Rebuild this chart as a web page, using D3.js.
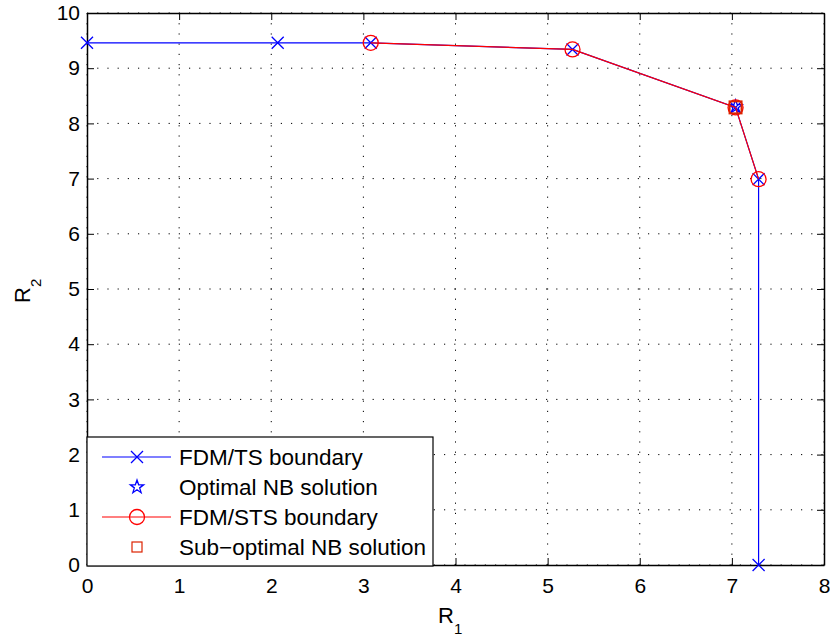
<!DOCTYPE html>
<html>
<head>
<meta charset="utf-8">
<script src="https://cdn.jsdelivr.net/npm/d3@7"></script>
<style>
body { margin: 0; background: #fff; }
text { font-family: "Liberation Sans", Arial, sans-serif; }
</style>
</head>
<body>
<script>
//FDM/TS boundary points
var tsR1 = [0, 2.07, 3.08, 5.27, 7.04, 7.29, 7.29];
var tsR2 = [9.46, 9.46, 9.46, 9.34, 8.29, 6.99, 0];
//FDM/STS boundary points
var stsR1 = [3.08, 5.27, 7.04, 7.29];
var stsR2 = [9.46, 9.34, 8.29, 6.99];
//NB solutions
var optNB = [7.04, 8.30];
var subNB = [7.04, 8.29];
//ticks and legend
var xTicks = [0, 1, 2, 3, 4, 5, 6, 7, 8];
var yTicks = [0, 1, 2, 3, 4, 5, 6, 7, 8, 9, 10];
var legendLabels = ["FDM/TS boundary", "Optimal NB solution", "FDM/STS boundary", "Sub\u2212optimal NB solution"];

drawChart();

function drawChart(){
	var width = 830, height = 639;
	var pLeft = 87, pRight = 824, pTop = 13, pBottom = 565;

	var svg = d3.select("body").append("svg")
		.attr("width", width)
		.attr("height", height);

	var x = d3.scaleLinear().domain([0, 8]).range([pLeft, pRight]);
	var y = d3.scaleLinear().domain([0, 10]).range([pBottom, pTop]);

	//dotted grid
	svg.selectAll(".gx").data(xTicks).enter().append("line")
		.attr("x1", d => x(d)).attr("x2", d => x(d))
		.attr("y1", pTop).attr("y2", pBottom)
		.attr("stroke", "#000").attr("stroke-width", 1)
		.attr("stroke-dasharray", "1.2,9");
	svg.selectAll(".gy").data(yTicks).enter().append("line")
		.attr("y1", d => y(d)).attr("y2", d => y(d))
		.attr("x1", pLeft).attr("x2", pRight)
		.attr("stroke", "#000").attr("stroke-width", 1)
		.attr("stroke-dasharray", "1.2,9");

	//axes with inward ticks
	var fs = 21;
	var gx = svg.append("g").attr("transform", "translate(0," + pBottom + ")")
		.call(d3.axisBottom(x).tickValues(xTicks).tickSizeInner(-7).tickSizeOuter(0).tickPadding(13));
	var gxt = svg.append("g").attr("transform", "translate(0," + pTop + ")")
		.call(d3.axisTop(x).tickValues(xTicks).tickSizeInner(-7).tickSizeOuter(0).tickFormat(""));
	var gy = svg.append("g").attr("transform", "translate(" + pLeft + ",0)")
		.call(d3.axisLeft(y).tickValues(yTicks).tickSizeInner(-7).tickSizeOuter(0).tickPadding(7));
	var gyr = svg.append("g").attr("transform", "translate(" + pRight + ",0)")
		.call(d3.axisRight(y).tickValues(yTicks).tickSizeInner(-7).tickSizeOuter(0).tickFormat(""));
	[gx, gxt, gy, gyr].forEach(function(g){
		g.select(".domain").attr("stroke", "#000").attr("stroke-width", 1.5);
		g.selectAll(".tick line").attr("stroke", "#000").attr("stroke-width", 1);
		g.selectAll("text").attr("font-size", fs).attr("fill", "#000")
			.style("font-family", "'Liberation Sans', Arial, sans-serif");
	});

	var line = d3.line().x(d => x(d[0])).y(d => y(d[1]));
	var ts = tsR1.map((v, i) => [v, tsR2[i]]);
	var sts = stsR1.map((v, i) => [v, stsR2[i]]);

	//FDM/TS
	svg.append("path").datum(ts).attr("d", line)
		.attr("fill", "none").attr("stroke", "#0000ff").attr("stroke-width", 1.2);
	var mk = svg.append("g");
	ts.forEach(d => xMark(mk, x(d[0]), y(d[1]), "#0000ff"));

	//optimal NB
	svg.append("path").attr("d", starPath(x(optNB[0]), y(optNB[1]), 7))
		.attr("fill", "none").attr("stroke", "#0000ff").attr("stroke-width", 1.3);

	//FDM/STS
	svg.append("path").datum(sts).attr("d", line)
		.attr("fill", "none").attr("stroke", "#ff0000").attr("stroke-width", 1.2);
	svg.selectAll(".sts").data(sts).enter().append("circle")
		.attr("cx", d => x(d[0])).attr("cy", d => y(d[1])).attr("r", 7.5)
		.attr("fill", "none").attr("stroke", "#ff0000").attr("stroke-width", 1.3);

	//sub-optimal NB
	svg.append("rect")
		.attr("x", x(subNB[0]) - 6).attr("y", y(subNB[1]) - 6)
		.attr("width", 12).attr("height", 12)
		.attr("fill", "none").attr("stroke", "#dd2200").attr("stroke-width", 2);

	//legend
	var lg = svg.append("g");
	lg.append("rect").attr("x", 87).attr("y", 437).attr("width", 346).attr("height", 129)
		.attr("fill", "#fff").attr("stroke", "#000").attr("stroke-width", 1.2);
	var rowY = d3.range(legendLabels.length).map(i => 457 + i * 30);
	lg.selectAll(".lt").data(legendLabels).enter().append("text")
		.attr("x", 179).attr("y", (d, i) => rowY[i]).attr("dy", "0.36em")
		.attr("font-size", 22.5).text(d => d);
	lg.append("line").attr("x1", 102).attr("x2", 171).attr("y1", rowY[0]).attr("y2", rowY[0])
		.attr("stroke", "#0000ff").attr("stroke-width", 1.2);
	xMark(lg, 137, rowY[0], "#0000ff");
	lg.append("path").attr("d", starPath(137, rowY[1], 7))
		.attr("fill", "none").attr("stroke", "#0000ff").attr("stroke-width", 1.3);
	lg.append("line").attr("x1", 102).attr("x2", 171).attr("y1", rowY[2]).attr("y2", rowY[2])
		.attr("stroke", "#ff0000").attr("stroke-width", 1.2);
	lg.append("circle").attr("cx", 137).attr("cy", rowY[2]).attr("r", 7.5)
		.attr("fill", "none").attr("stroke", "#ff0000").attr("stroke-width", 1.3);
	lg.append("rect").attr("x", 132).attr("y", rowY[3] - 5).attr("width", 10).attr("height", 10)
		.attr("fill", "none").attr("stroke", "#dd2200").attr("stroke-width", 1.2);

	//axis labels
	var xl = svg.append("text").attr("x", 438).attr("y", 623).attr("font-size", 22);
	xl.append("tspan").text("R");
	xl.append("tspan").attr("dy", 11).attr("font-size", 15).text("1");
	var yl = svg.append("text").attr("transform", "translate(30,303) rotate(-90)").attr("font-size", 22);
	yl.append("tspan").text("R");
	yl.append("tspan").attr("dy", 11).attr("font-size", 15).text("2");
}

function xMark(g, cx, cy, col){
	var s = 6;
	g.append("path")
		.attr("d", "M" + (cx - s) + "," + (cy - s) + "L" + (cx + s) + "," + (cy + s) +
			"M" + (cx - s) + "," + (cy + s) + "L" + (cx + s) + "," + (cy - s))
		.attr("stroke", col).attr("stroke-width", 1.3).attr("fill", "none");
}

function starPath(cx, cy, r){
	var pts = [];
	for (var i = 0; i < 10; i++){
		var a = -Math.PI / 2 + i * Math.PI / 5;
		var rr = i % 2 ? r * 0.4 : r;
		pts.push([cx + rr * Math.cos(a), cy + rr * Math.sin(a)]);
	}
	return "M" + pts.join("L") + "Z";
}
</script>
</body>
</html>
